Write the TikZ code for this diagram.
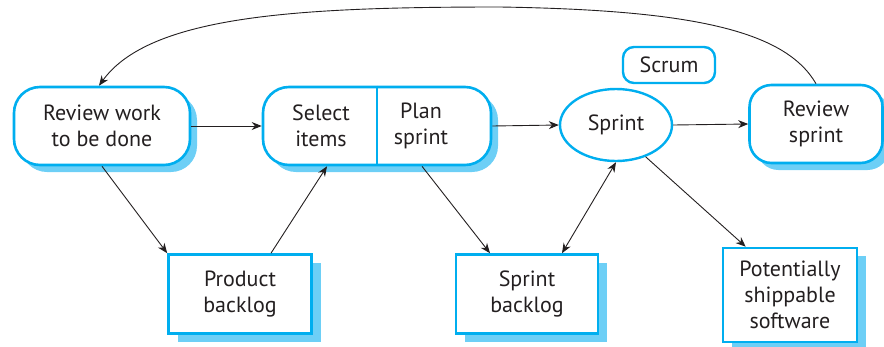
\documentclass[tikz,border=0pt]{standalone}
\usepackage{fontspec}
\setmainfont{PT Sans}
\usetikzlibrary{arrows.meta,shapes.geometric,shadows,calc}
\definecolor{bordc}{HTML}{00AEEF}
\definecolor{shadc}{HTML}{6DCFF6}
\definecolor{txtc}{HTML}{231F20}
\begin{document}
\begin{tikzpicture}[x=1pt,y=-1pt,
  every node/.style={font=\fontsize{22}{26}\selectfont, text=txtc, align=center, inner sep=0pt},
  rbox/.style={draw=bordc, line width=2.6pt, fill=white, rounded corners=26pt,
    drop shadow={shadow xshift=7pt, shadow yshift=-7pt, fill=shadc, opacity=1}},
  sbox/.style={draw=bordc, line width=2.6pt, fill=white,
    drop shadow={shadow xshift=9pt, shadow yshift=-8pt, fill=shadc, opacity=1}},
  plainbox/.style={draw=bordc, line width=2.4pt, fill=white},
  arr/.style={-{Stealth[length=10pt,width=8pt]}, line width=0.9pt, draw=txtc},
  darr/.style={{Stealth[length=10pt,width=8pt]}-{Stealth[length=10pt,width=8pt]}, line width=0.9pt, draw=txtc}]
\useasboundingbox (0,0) rectangle (884,346);
\clip (0,0) rectangle (884,346);
% nodes
\node[rbox, minimum width=176pt, minimum height=78pt] (rw) at (102,126) {Review work\\to be done};
\node[rbox, minimum width=228pt, minimum height=78pt] (sel) at (377,126) {};
\draw[bordc, line width=2.6pt] (sel.north) -- (sel.south);
\node (si) at (321,126) {Select\\items};
\node (ps) at (421,126) {Plan\\sprint};
\node[plainbox, ellipse, minimum width=112pt, minimum height=72pt] (sp) at (616,125) {Sprint};
\node[plainbox, rounded corners=11pt, minimum width=92pt, minimum height=36pt] (scrum) at (669,65) {Scrum};
\node[rbox, rounded corners=22pt, minimum width=133pt, minimum height=78pt] (rs) at (816,124) {Review\\sprint};
\node[sbox, minimum width=143pt, minimum height=79pt] (pb) at (240,294) {Product\\backlog};
\node[sbox, minimum width=142pt, minimum height=79pt] (sb) at (527,294) {Sprint\\backlog};
\node[sbox, minimum width=134pt, minimum height=94pt] (pss) at (790,295) {Potentially\\shippable\\software};
% connectors
\draw[arr] (rw.east) -- (sel.west);
\draw[arr] (sel.east) -- (sp.west);
\draw[arr] (sp.east) -- (rs.west);
\draw[arr] (rw.south) -- (pb.north west);
\draw[arr] ($(pb.north)+(31,0)$) -- ($(sel.south)+(-50,0)$);
\draw[arr] ($(sel.south)+(45,0)$) -- ($(sb.north)+(-37,0)$);
\draw[darr] ($(sb.north)+(35,0)$) -- (sp.south);
\draw[arr] (sp.-47) -- ($(pss.north west)+(24,0)$);
\coordinate (top) at (500,7);
\draw[arr] (rs.north) .. controls (785,30) and (690,10) .. (top)
   .. controls (300,7) and (150,15) .. ($(rw.north)+(-3,0)$);
\end{tikzpicture}
\end{document}
